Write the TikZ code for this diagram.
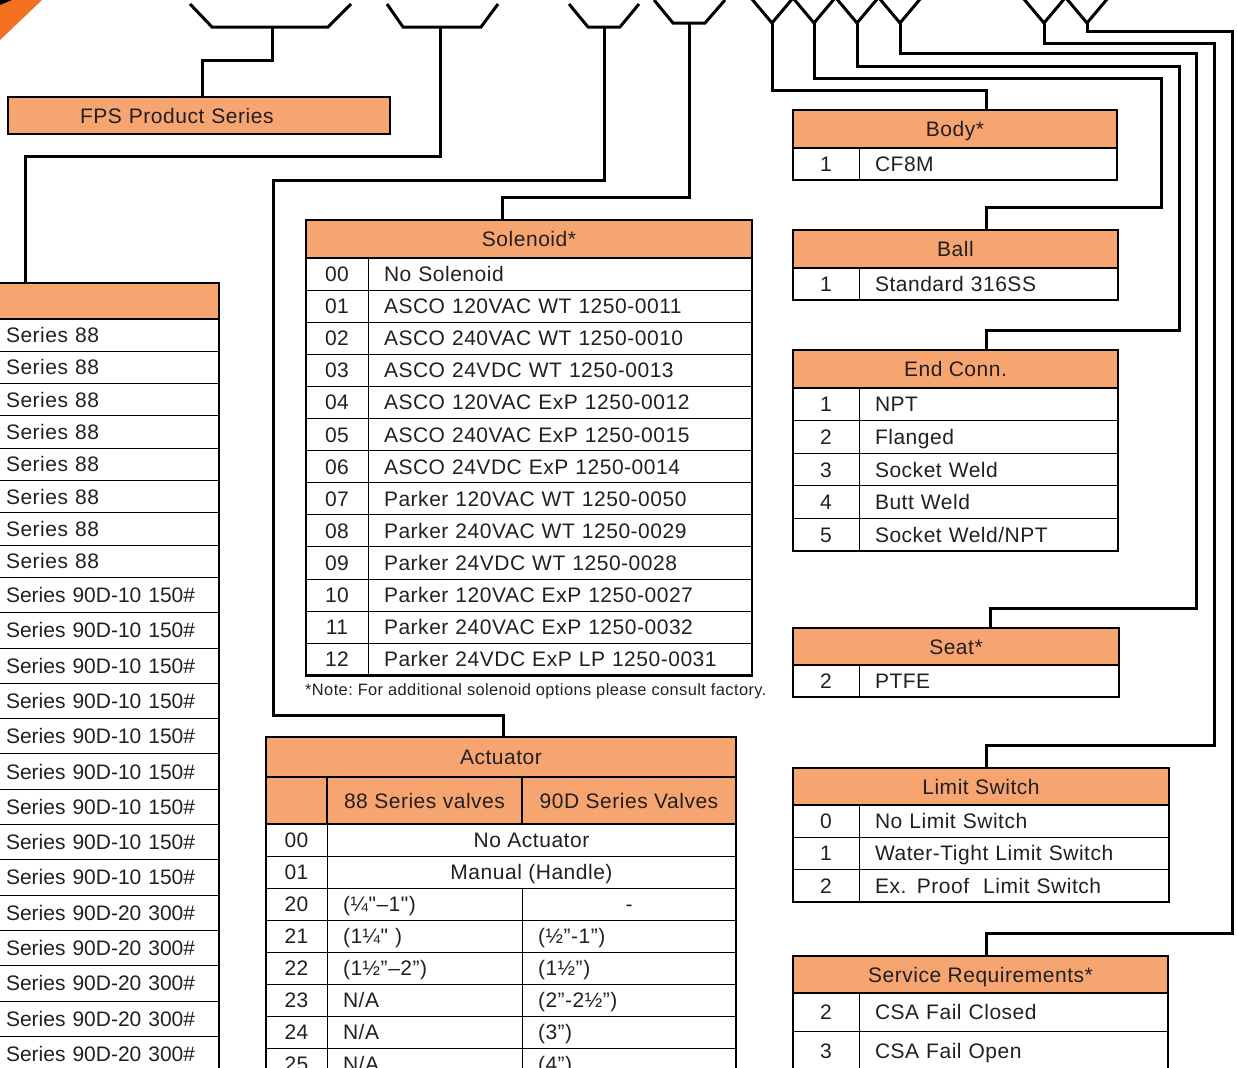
\documentclass[tikz,border=0pt]{standalone}
\usepackage{fontspec}
\usepackage{tikz}
\usetikzlibrary{calc}

\definecolor{fpsorange}{RGB}{247,165,112}
\definecolor{cornerorange}{RGB}{243,112,33}
\definecolor{ink}{RGB}{35,31,32}
\newfontfamily\gothic[LetterSpace=2.5]{Liberation Sans}
\newfontfamily\arialface{Liberation Sans}
\newcommand\tabfont{\gothic\fontsize{21}{25}\selectfont}
\newcommand\serfont{\arialface\fontsize{21}{25}\selectfont}
\newcommand\notefont{\gothic\fontsize{16.4}{19}\selectfont}

\begin{document}
\begin{tikzpicture}[x=1pt, y=-1pt,
  wire/.style={line width=3pt, line join=miter},
  frame/.style={line width=2.5pt},
  head/.style={draw, line width=2.5pt, fill=fpsorange, inner sep=0pt, outer sep=0pt, text=ink,
               text height=17pt, text depth=2pt, font=\tabfont},
  code/.style={draw, line width=1pt, anchor=north west, inner sep=0pt, outer sep=0pt, text=ink,
               text height=17pt, text depth=2pt, font=\tabfont},
  desc/.style={draw, line width=1pt, anchor=west, inner xsep=16pt, inner ysep=0pt, outer sep=0pt,
               text width=#1, align=left, text=ink,
               text height=17pt, text depth=2pt, font=\tabfont}
]
\clip (0,0) rectangle (1237,1068);

% corner mark
\fill[cornerorange] (0,0) -- (42,0) -- (0,40) -- cycle;
\fill[black] (0,0) -- (12,0) -- (0,5) -- cycle;

% top forks
\draw[wire] (190,4) -- (212,27) -- (328,27) -- (351,4);
\draw[wire] (387,4) -- (403,27) -- (481,27) -- (498,4);
\draw[wire] (569,4) -- (588,27) -- (620,27) -- (639,4);
\draw[wire] (654,0) -- (673,23) -- (705,23) -- (725,0);
\coordinate (forkA) at (272,27);
\coordinate (forkB) at (440,27);
\coordinate (forkC) at (604,27);
\coordinate (forkD) at (689,23);
\foreach \x/\n in {772/ybody, 814/yball, 857/yend, 900/yseat, 1044/ylimit, 1087/yserv}
{
  \draw[wire] (\x-21,-2) -- (\x,23) -- (\x+21,-2);
  \coordinate (\n) at (\x,23);
}

% product series
\node[draw, line width=2pt, fill=fpsorange, minimum width=382pt, minimum height=37pt,
      text width=238pt, inner xsep=72pt, outer sep=0pt, align=left, font=\tabfont, text=ink,
      text height=17pt, text depth=2pt] (fps) at (199,115.5) {FPS Product Series};

\node[head, minimum width=229pt, minimum height=36pt] (series) at (104.5,301) {};
\foreach \i in {0,...,7}
  \node[desc=197pt, anchor=north west, minimum height=32.3pt] (ser-\i)
    at ($(series.south west)+(0,{32.3*\i})$) {Series 88};
\foreach \t [count=\i from 0] in {10 150,10 150,10 150,10 150,10 150,10 150,10 150,10 150,10 150,
                                  20 300,20 300,20 300,20 300,20 300}
  \node[desc=197pt, anchor=north west, minimum height=35.3pt, font=\serfont] (ser90-\i)
    at ($(ser-7.south west)+(0,{35.3*\i})$) {Series 90D-\t\#};
\draw[frame] (series.north west) rectangle (ser90-13.south east);

% solenoid
\node[head, minimum width=446pt, minimum height=38pt] (solenoid) at (529,239) {Solenoid*};
\foreach \c/\d [count=\i from 0] in {00/No Solenoid, 01/ASCO 120VAC WT 1250-0011,
    02/ASCO 240VAC WT 1250-0010, 03/ASCO 24VDC WT 1250-0013, 04/ASCO 120VAC ExP 1250-0012,
    05/ASCO 240VAC ExP 1250-0015, 06/ASCO 24VDC ExP 1250-0014, 07/Parker 120VAC WT 1250-0050,
    08/Parker 240VAC WT 1250-0029, 09/Parker 24VDC WT 1250-0028, 10/Parker 120VAC ExP 1250-0027,
    11/Parker 240VAC ExP 1250-0032, 12/Parker 24VDC ExP LP 1250-0031}
{
  \node[code, minimum width=62pt, minimum height=32.1pt] (sol-c\i)
    at ($(solenoid.south west)+(0,{32.1*\i})$) {\c};
  \node[desc=352pt, minimum height=32.1pt] (sol-d\i) at (sol-c\i.east) {\d};
}
\draw[frame] (solenoid.north west) rectangle (sol-d12.south east);
\node[font=\notefont, text=ink, anchor=west, inner sep=0pt] (note) at (305,691)
  {*Note:\ For additional solenoid options please consult factory.};

% actuator
\node[head, minimum width=470pt, minimum height=40pt] (actuator) at (501,757) {Actuator};
\node[head, anchor=north west, minimum width=61pt, minimum height=47pt] (act-h0) at (actuator.south west) {};
\node[head, anchor=north west, minimum width=195pt, minimum height=47pt] (act-h1) at (act-h0.north east) {88 Series valves};
\node[head, anchor=north west, minimum width=214pt, minimum height=47pt] (act-h2) at (act-h1.north east) {90D Series Valves};
\foreach \c/\d [count=\i from 0] in {00/No Actuator, 01/Manual (Handle)}
{
  \node[code, minimum width=61pt, minimum height=32pt] (act-c\i)
    at ($(act-h0.south west)+(0,{32*\i})$) {\c};
  \node[code, anchor=west, minimum width=409pt, minimum height=32pt] (act-a\i) at (act-c\i.east) {\d};
}
\foreach \c/\a/\b [count=\i from 2] in {20/{(¼"–1")}/{\hspace*{\fill}-\hspace*{\fill}},
    21/{(1¼" )}/{(½”-1”)}, 22/{(1½”–2”)}/{(1½”)}, 23/{N/A}/{(2”-2½”)},
    24/{N/A}/{(3”)}, 25/{N/A}/{(4”)}}
{
  \node[code, minimum width=61pt, minimum height=32pt] (act-c\i)
    at ($(act-h0.south west)+(0,{32*\i})$) {\c};
  \node[desc=163pt, minimum height=32pt] (act-a\i) at (act-c\i.east) {\a};
  \node[desc=182pt, minimum height=32pt] (act-b\i) at (act-a\i.east) {\b};
}
\draw[frame] (actuator.north west) rectangle (act-b7.south east);

% body
\node[head, minimum width=324pt, minimum height=38pt] (body) at (955,129) {Body*};
\node[code, minimum width=66pt, minimum height=32pt] (body-c0) at (body.south west) {1};
\node[desc=226pt, minimum height=32pt] (body-d0) at (body-c0.east) {CF8M};
\draw[frame] (body.north west) rectangle (body-d0.south east);

% ball
\node[head, minimum width=325pt, minimum height=38pt] (ball) at (955.5,249) {Ball};
\node[code, minimum width=66pt, minimum height=32pt] (ball-c0) at (ball.south west) {1};
\node[desc=227pt, minimum height=32pt] (ball-d0) at (ball-c0.east) {Standard 316SS};
\draw[frame] (ball.north west) rectangle (ball-d0.south east);

% end connection
\node[head, minimum width=325pt, minimum height=38pt] (endconn) at (955.5,369) {End Conn.};
\foreach \c/\d [count=\i from 0] in {1/NPT, 2/Flanged, 3/Socket Weld, 4/Butt Weld, 5/{Socket Weld/NPT}}
{
  \node[code, minimum width=66pt, minimum height=32.6pt] (end-c\i)
    at ($(endconn.south west)+(0,{32.6*\i})$) {\c};
  \node[desc=227pt, minimum height=32.6pt] (end-d\i) at (end-c\i.east) {\d};
}
\draw[frame] (endconn.north west) rectangle (end-d4.south east);

% seat
\node[head, minimum width=326pt, minimum height=37pt] (seat) at (956,646.5) {Seat*};
\node[code, minimum width=66pt, minimum height=32pt] (seat-c0) at (seat.south west) {2};
\node[desc=228pt, minimum height=32pt] (seat-d0) at (seat-c0.east) {PTFE};
\draw[frame] (seat.north west) rectangle (seat-d0.south east);

% limit switch
\node[head, minimum width=376pt, minimum height=37pt] (limit) at (981,786.5) {Limit Switch};
\foreach \c/\d [count=\i from 0] in {0/No Limit Switch, 1/Water-Tight Limit Switch, 2/Ex. Proof\ \ Limit Switch}
{
  \node[code, minimum width=66pt, minimum height=32.3pt] (lim-c\i)
    at ($(limit.south west)+(0,{32.3*\i})$) {\c};
  \node[desc=278pt, minimum height=32.3pt] (lim-d\i) at (lim-c\i.east) {\d};
}
\draw[frame] (limit.north west) rectangle (lim-d2.south east);

% service requirements
\node[head, minimum width=375pt, minimum height=37pt] (service) at (980.5,974.5) {Service Requirements*};
\foreach \c/\d [count=\i from 0] in {2/CSA Fail Closed, 3/CSA Fail Open}
{
  \node[code, minimum width=66pt, minimum height=38.5pt] (srv-c\i)
    at ($(service.south west)+(0,{38.5*\i})$) {\c};
  \node[desc=277pt, minimum height=38.5pt] (srv-d\i) at (srv-c\i.east) {\d};
}
\draw[frame] (service.north west) rectangle (srv-d1.south east);

% connectors
\draw[wire] (forkA) -- ++(0,33) -| ([xshift=3pt]fps.north);
\draw[wire] (forkB) -- ++(0,129) -| ([xshift=-79.5pt]series.north);
\draw[wire] (forkC) -- ++(0,153) -| ++(-331,535) -| ([xshift=2pt]actuator.north);
\draw[wire] (forkD) -- ++(0,174) -| ([xshift=-27pt]solenoid.north);
\draw[wire] (ybody) -- ++(0,67) -| ([xshift=31pt]body.north);
\draw[wire] (yball) -- ++(0,55) -| ++(347,129) -| ([xshift=30.5pt]ball.north);
\draw[wire] (yend) -- ++(0,43) -| ++(322,264) -| ([xshift=30.5pt]endconn.north);
\draw[wire] (yseat) -- ++(0,30) -| ++(296,555) -| ([xshift=34pt]seat.north);
\draw[wire] (ylimit) -- ++(0,20) -| ++(170,702) -| ([xshift=5pt]limit.north);
\draw[wire] (yserv) -- ++(0,8) -| ++(145,902) -| ([xshift=5.5pt]service.north);
\end{tikzpicture}
\end{document}
